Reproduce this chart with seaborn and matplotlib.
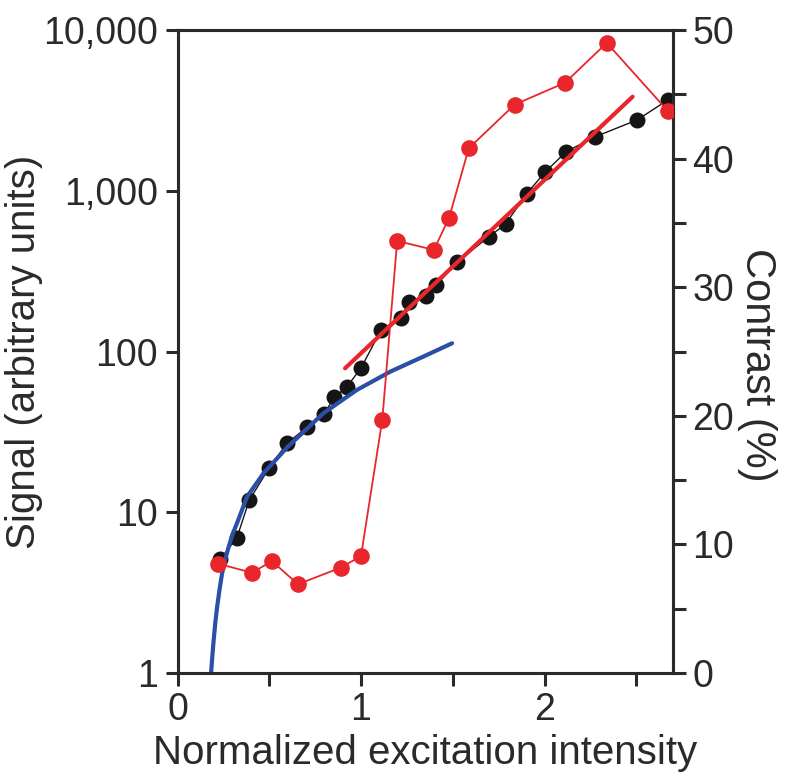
import matplotlib
matplotlib.use("Agg")
import matplotlib.pyplot as plt
import seaborn as sns
import pandas as pd
from matplotlib.ticker import FixedLocator, FuncFormatter, NullLocator

# ---- data ----
signal_x = [0.234, 0.324, 0.391, 0.500, 0.596, 0.707, 0.797, 0.855, 0.922, 1.000,
            1.109, 1.217, 1.262, 1.353, 1.411, 1.523, 1.697, 1.788, 1.902, 2.002,
            2.118, 2.277, 2.504, 2.672]
signal_y = [5.1, 6.95, 11.9, 18.9, 26.8, 33.9, 40.7, 51.9, 60.1, 78.9,
            136, 161, 202, 222, 259, 359, 518, 621, 955, 1303,
            1750, 2170, 2755, 3670]

contrast_x = [0.221, 0.406, 0.515, 0.656, 0.891, 1.000, 1.116, 1.197, 1.397, 1.480,
              1.587, 1.837, 2.112, 2.339, 2.672]
contrast_y = [8.5, 7.8, 8.7, 6.9, 8.2, 9.1, 19.7, 33.6, 32.9, 35.4,
              40.8, 44.2, 45.9, 49.0, 43.7]

fit_x = [0.913, 2.48]
fit_y = [78.6, 3846]

model_x = [0.183, 0.190, 0.197, 0.206, 0.216, 0.229, 0.243, 0.260, 0.279, 0.300,
           0.324, 0.379, 0.469, 0.600, 0.795, 0.977, 1.158, 1.339, 1.496]
model_y = [1.0, 1.28, 1.6, 2.05, 2.58, 3.3, 4.17, 5.1, 6.11, 7.3,
           8.54, 12.5, 17.5, 25.5, 41.3, 57.6, 74.8, 92.9, 112.5]

x_ticks = [0, 1, 2]
x_minor = [0.5, 1.5, 2.5]
y_ticks = [1, 10, 100, 1000, 10000]
c_ticks = [0, 10, 20, 30, 40, 50]
c_minor = [5, 15, 25, 35, 45]

# ---- style ----
sns.set_theme(style="ticks")
plt.rcParams['font.family'] = ['Liberation Sans', 'DejaVu Sans']
plt.rcParams['axes.linewidth'] = 2.2

RED = "#e8262b"
BLUE = "#2b4fa6"
BLACK = "#151515"
TXT = "#2a2a2a"
FS = 27
LFS = 29

fig = plt.figure(figsize=(7.89, 7.81), dpi=100)
ax = fig.add_axes([177.5 / 789, 1 - 673 / 781, (673 - 177.5) / 789, (673 - 30) / 781])

df_sig = pd.DataFrame({"x": signal_x, "y": signal_y})
df_con = pd.DataFrame({"x": contrast_x, "y": contrast_y})
df_fit = pd.DataFrame({"x": fit_x, "y": fit_y})
df_mod = pd.DataFrame({"x": model_x, "y": model_y})

sns.lineplot(data=df_sig, x="x", y="y", ax=ax, color=BLACK, lw=1.0, sort=False,
             estimator=None, marker="o", markersize=11.5, markeredgewidth=0,
             markerfacecolor=BLACK, zorder=2)
sns.lineplot(data=df_mod, x="x", y="y", ax=ax, color=BLUE, lw=3.0, sort=False,
             estimator=None, zorder=3)
sns.lineplot(data=df_fit, x="x", y="y", ax=ax, color=RED, lw=3.0, sort=False,
             estimator=None, zorder=4)

ax.set_yscale("log")
ax.set_xlim(0, 2.7)
ax.set_ylim(1, 10000)
ax.yaxis.set_major_locator(FixedLocator(y_ticks))
ax.yaxis.set_minor_locator(NullLocator())
ax.yaxis.set_major_formatter(FuncFormatter(lambda v, p: f"{int(round(v)):,}"))
ax.xaxis.set_major_locator(FixedLocator(x_ticks))
ax.xaxis.set_minor_locator(FixedLocator(x_minor))
ax.tick_params(axis="both", which="both", direction="out", length=9, width=2.2,
               labelsize=FS, colors=TXT, pad=5)
ax.set_xlabel("Normalized excitation intensity", fontsize=LFS, color=TXT, labelpad=4)
ax.set_ylabel("Signal (arbitrary units)", fontsize=LFS, color=TXT, labelpad=0)
for s in ax.spines.values():
    s.set_visible(True)
    s.set_color(TXT)

ax2 = ax.twinx()
sns.lineplot(data=df_con, x="x", y="y", ax=ax2, color=RED, lw=1.3, sort=False,
             estimator=None, marker="o", markersize=12, markeredgewidth=0,
             markerfacecolor=RED, zorder=5)
ax2.set_ylim(0, 50)
ax2.set_xlim(0, 2.7)
ax2.yaxis.set_major_locator(FixedLocator(c_ticks))
ax2.yaxis.set_minor_locator(FixedLocator(c_minor))
ax2.tick_params(axis="y", which="both", direction="out", length=9, width=2.2,
                labelsize=FS, colors=TXT, pad=5)
ax2.set_ylabel("Contrast (%)", fontsize=LFS + 1, color=TXT, rotation=270)
ax2.yaxis.label.set_horizontalalignment("center")
ax2.yaxis.label.set_verticalalignment("center")
ax2.yaxis.set_label_coords(1.17, 0.48)
ax2.set_xlabel("")
for s in ax2.spines.values():
    s.set_visible(True)
    s.set_color(TXT)

fig.savefig("out.png", dpi=100)
